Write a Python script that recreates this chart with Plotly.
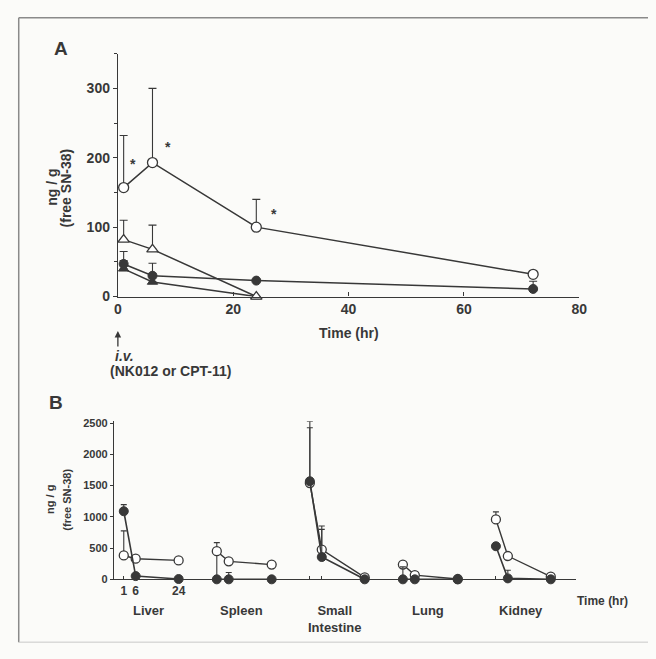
import plotly.graph_objects as go

# ---------------- Panel A data ----------------
time_a = [1, 6, 24, 72]
time_a3 = [1, 6, 24]
open_circle = [157, 193, 100, 32]
open_circle_err = [75, 107, 40, 0]
open_tri = [82, 68, 0]
open_tri_err = [28, 35, 0]
filled_circle = [47, 30, 23, 11]
filled_circle_err = [18, 18, 0, 11]
filled_tri = [40, 21, 0]
filled_tri_err = [12, 0, 0]
star_x = [2.6, 8.7, 27]
star_y = [191, 216, 119]
xticks_a = [0, 20, 40, 60, 80]
yticks_a = [0, 100, 200, 300]

# ---------------- Panel B data ----------------
organs = ["Liver", "Spleen", "Small<br>Intestine", "Lung", "Kidney"]
times_b = [1, 6, 24]
open_b = [[382, 330, 303], [450, 288, 236], [1540, 476, 30], [236, 68, 5], [959, 373, 42]]
open_b_err = [[393, 0, 0], [137, 0, 0], [887, 377, 0], [0, 0, 0], [121, 0, 0]]
open_b_errminus = [[0, 0, 0], [450, 0, 0], [0, 0, 0], [0, 0, 0], [0, 0, 0]]
filled_b = [[1090, 52, 5], [0, 0, 0], [1570, 357, 0], [0, 0, 0], [530, 15, 0]]
filled_b_err = [[105, 0, 0], [0, 110, 0], [960, 443, 0], [200, 0, 0], [0, 131, 0]]
yticks_b = [0, 500, 1000, 1500, 2000, 2500]

ORGAN_GAP = 39  # horizontal spacing between organ groups (hours units)

W, H = 656, 659
INK = "#383838"
FONT = "Liberation Sans"


def px(x):
    return x / W


def py(y):
    return 1 - y / H


def flat(groups):
    out = []
    for i, g in enumerate(groups):
        out.extend(g)
        if i < len(groups) - 1:
            out.append(None)
    return out


xb = flat([[i * ORGAN_GAP + t for t in times_b] for i in range(len(organs))])

fig = go.Figure()


def err(arr, minus=None, width=4):
    d = dict(type="data", array=arr, symmetric=False, color=INK, thickness=1.1, width=width)
    d["arrayminus"] = minus if minus is not None else [0] * len(arr)
    return d


# Panel A traces
fig.add_trace(go.Scatter(x=time_a3, y=filled_tri, mode="lines+markers", xaxis="x", yaxis="y",
                         line=dict(color=INK, width=1.5),
                         marker=dict(symbol="triangle-up", size=9, color=INK, line=dict(color=INK, width=1)),
                         error_y=err(filled_tri_err), cliponaxis=False))
fig.add_trace(go.Scatter(x=time_a, y=filled_circle, mode="lines+markers", xaxis="x", yaxis="y",
                         line=dict(color=INK, width=1.5),
                         marker=dict(symbol="circle", size=9, color=INK, line=dict(color=INK, width=1)),
                         error_y=err(filled_circle_err), cliponaxis=False))
fig.add_trace(go.Scatter(x=time_a3, y=open_tri, mode="lines+markers", xaxis="x", yaxis="y",
                         line=dict(color=INK, width=1.5),
                         marker=dict(symbol="triangle-up", size=10, color="white", line=dict(color=INK, width=1.3)),
                         error_y=err(open_tri_err), cliponaxis=False))
fig.add_trace(go.Scatter(x=time_a, y=open_circle, mode="lines+markers", xaxis="x", yaxis="y",
                         line=dict(color=INK, width=1.5),
                         marker=dict(symbol="circle", size=10, color="white", line=dict(color=INK, width=1.3)),
                         error_y=err(open_circle_err), cliponaxis=False))

# Panel B traces
fig.add_trace(go.Scatter(x=xb, y=flat(open_b), mode="lines+markers", xaxis="x2", yaxis="y2",
                         connectgaps=False,
                         line=dict(color=INK, width=1.4),
                         marker=dict(symbol="circle", size=9, color="white", line=dict(color=INK, width=1.3)),
                         error_y=err(flat(open_b_err), flat(open_b_errminus), width=3), cliponaxis=False))
fig.add_trace(go.Scatter(x=xb, y=flat(filled_b), mode="lines+markers", xaxis="x2", yaxis="y2",
                         connectgaps=False,
                         line=dict(color=INK, width=1.6),
                         marker=dict(symbol="circle", size=9, color=INK, line=dict(color=INK, width=1)),
                         error_y=err(flat(filled_b_err), width=3), cliponaxis=False))

axis_common = dict(showgrid=False, zeroline=False, showline=True, linecolor=INK, linewidth=1.2,
                   tickcolor=INK, tickwidth=1.1, ticklen=4)

bx0 = -10 / 2.43 + 1
bx1 = 1 + 461 / 2.43

fig.update_layout(
    width=W, height=H,
    margin=dict(l=0, r=0, t=0, b=0),
    paper_bgcolor="#fbfbf9", plot_bgcolor="rgba(0,0,0,0)",
    showlegend=False,
    font=dict(family=FONT, color=INK, size=13, weight="bold"),
    xaxis=dict(axis_common, domain=[px(116), px(586)], range=[0, 80], anchor="y",
               tickvals=xticks_a, ticks="inside",
               tickfont=dict(family=FONT, size=14, color=INK, weight="bold")),
    yaxis=dict(axis_common, domain=[py(298), py(298 - 350 * 0.707)], range=[0, 350], anchor="x",
               tickvals=yticks_a, ticks="outside",
               minor=dict(tickvals=[50, 150, 250, 350], ticks="outside", ticklen=3, tickcolor=INK),
               tickfont=dict(family=FONT, size=14, color=INK, weight="bold")),
    xaxis2=dict(axis_common, domain=[px(112), px(583)], range=[bx0, bx1], anchor="y2",
                tickvals=xb, ticktext=["1", "6", "24"] + [""] * (len(xb) - 3), ticks="inside", ticklen=3,
                tickfont=dict(family=FONT, size=12, color=INK, weight="bold")),
    yaxis2=dict(axis_common, domain=[py(586), py(425)], range=[0, 2530], anchor="x2",
                tickvals=yticks_b, ticks="outside", ticklen=3,
                tickfont=dict(family=FONT, size=11, color=INK, weight="bold")),
)


def label(x, y, text, size, xref="paper", yref="paper", **kw):
    d = dict(x=x, y=y, xref=xref, yref=yref, text=text, showarrow=False,
             xanchor="center", yanchor="middle",
             font=dict(size=size, weight="bold", family=FONT, color=INK))
    d.update(kw)
    return d


ann = []
# Panel letters
ann.append(label(px(58), py(45), "A", 19))
ann.append(label(px(53), py(406), "B", 19))
# Panel A axis titles
ann.append(label(px(48), py(187), "ng / g", 14, textangle=-90))
ann.append(label(px(63), py(187), "(free SN-38)", 14, textangle=-90))
ann.append(label(40, py(335), "Time (hr)", 14, xref="x"))
# Stars
for sx, sy in zip(star_x, star_y):
    ann.append(label(sx, sy, "*", 14, xref="x", yref="y"))
# i.v. arrow and text
ann.append(dict(x=0, y=py(333), xref="x", yref="paper", text="", showarrow=True,
                arrowhead=2, arrowsize=1, arrowwidth=1.3, arrowcolor=INK, ax=0, ay=17))
ann.append(label(px(111), py(359), "<i>i.v.</i>", 14, xanchor="left"))
ann.append(label(px(106), py(374), "(NK012 or CPT-11)", 14, xanchor="left"))
# Panel B axis titles
ann.append(label(px(47), py(505), "ng / g", 11, textangle=-90))
ann.append(label(px(64), py(505), "(free SN-38)", 11, textangle=-90))
# Organ labels
for i, name in enumerate(organs):
    ann.append(label(i * ORGAN_GAP + 11.5, py(608), name, 13, xref="x2", yanchor="top"))
ann.append(label(px(610), py(608), "Time (hr)", 12))
fig.update_layout(annotations=ann)

# Scanned-frame border lines
fig.update_layout(shapes=[
    dict(type="line", xref="paper", yref="paper", x0=px(15), x1=1, y0=py(14), y1=py(14),
         line=dict(color="#8a8a8a", width=1.5)),
    dict(type="line", xref="paper", yref="paper", x0=px(15), x1=px(15), y0=py(14), y1=py(650),
         line=dict(color="#8a8a8a", width=1.5)),
    dict(type="line", xref="paper", yref="paper", x0=px(15), x1=1, y0=py(650), y1=py(650),
         line=dict(color="#c8c8c8", width=1)),
])

fig.write_html(
    "out.html",
    config={"displayModeBar": False},
    post_script="document.body.style.margin='0';document.body.style.overflow='hidden';"
                "document.documentElement.style.overflow='hidden';",
)
